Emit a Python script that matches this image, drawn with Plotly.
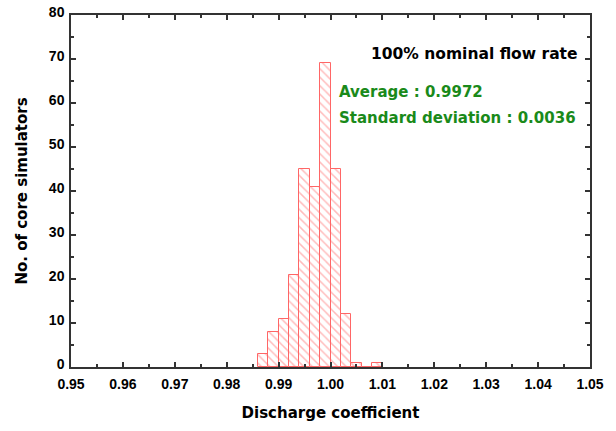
import plotly.graph_objects as go

bin_left = [0.986, 0.988, 0.990, 0.992, 0.994, 0.996, 0.998, 1.000, 1.002, 1.004, 1.006, 1.008]
counts = [3, 8, 11, 21, 45, 41, 69, 45, 12, 1, 0, 1]
bin_width = 0.002
x_ticks = [0.95, 0.96, 0.97, 0.98, 0.99, 1.00, 1.01, 1.02, 1.03, 1.04, 1.05]
y_ticks = [0, 10, 20, 30, 40, 50, 60, 70, 80]

centers = [b + bin_width / 2 for b in bin_left]

fig = go.Figure()
fig.add_trace(go.Bar(
    x=centers, y=counts, width=bin_width,
    marker=dict(color="white",
                line=dict(color="#ff6666", width=1),
                pattern=dict(shape="\\", fgcolor="#ff7777", bgcolor="white", size=6, solidity=0.25)),
    showlegend=False,
))

tickfont = dict(family="Liberation Sans, Arial", size=14, color="black", weight="bold")
titlefont = dict(family="DejaVu Sans", size=15, color="black", weight="bold")
annfont = "DejaVu Sans"

fig.update_layout(
    width=616, height=431,
    margin=dict(l=71, r=26, t=15, b=64),
    plot_bgcolor="white", paper_bgcolor="white",
    bargap=0,
    xaxis=dict(range=[0.95, 1.05], tickvals=x_ticks, ticktext=[f"{v:.2f}" for v in x_ticks],
               ticks="inside", ticklen=5, tickwidth=1.5, tickcolor="#333",
               showline=True, linecolor="#333", linewidth=1.5, mirror="allticks",
               showgrid=False, zeroline=False, tickfont=tickfont, automargin=False,
               ticklabelstandoff=3,
               minor=dict(dtick=0.005, ticks="inside", ticklen=3, tickcolor="#333", showgrid=False),
               title=dict(text="Discharge coefficient", font=titlefont, standoff=17)),
    yaxis=dict(range=[0, 80], tickvals=y_ticks,
               ticks="inside", ticklen=5, tickwidth=1.5, tickcolor="#333",
               showline=True, linecolor="#333", linewidth=1.5, mirror="allticks",
               showgrid=False, zeroline=False, tickfont=tickfont, automargin=False,
               ticklabelshift=-3, ticklabelstandoff=2,
               minor=dict(dtick=5, ticks="inside", ticklen=3, tickcolor="#333", showgrid=False),
               title=dict(text="No. of core simulators", font=titlefont, standoff=18)),
    annotations=[
        dict(x=1.0481, y=71.1, xref="x", yref="y", text="100% nominal flow rate", showarrow=False,
             xanchor="right", yanchor="middle",
             font=dict(family=annfont, size=15.5, color="black", weight="bold")),
        dict(x=1.00125, y=62.5, xref="x", yref="y", text="Average : 0.9972", showarrow=False,
             xanchor="left", yanchor="middle",
             font=dict(family=annfont, size=15, color="#1a8a1a", weight="bold")),
        dict(x=1.00125, y=56.6, xref="x", yref="y", text="Standard deviation : 0.0036", showarrow=False,
             xanchor="left", yanchor="middle",
             font=dict(family=annfont, size=15, color="#1a8a1a", weight="bold")),
    ],
)

fig.write_html("out.html", config={"displayModeBar": False},
               post_script="document.body.style.margin='0';")
